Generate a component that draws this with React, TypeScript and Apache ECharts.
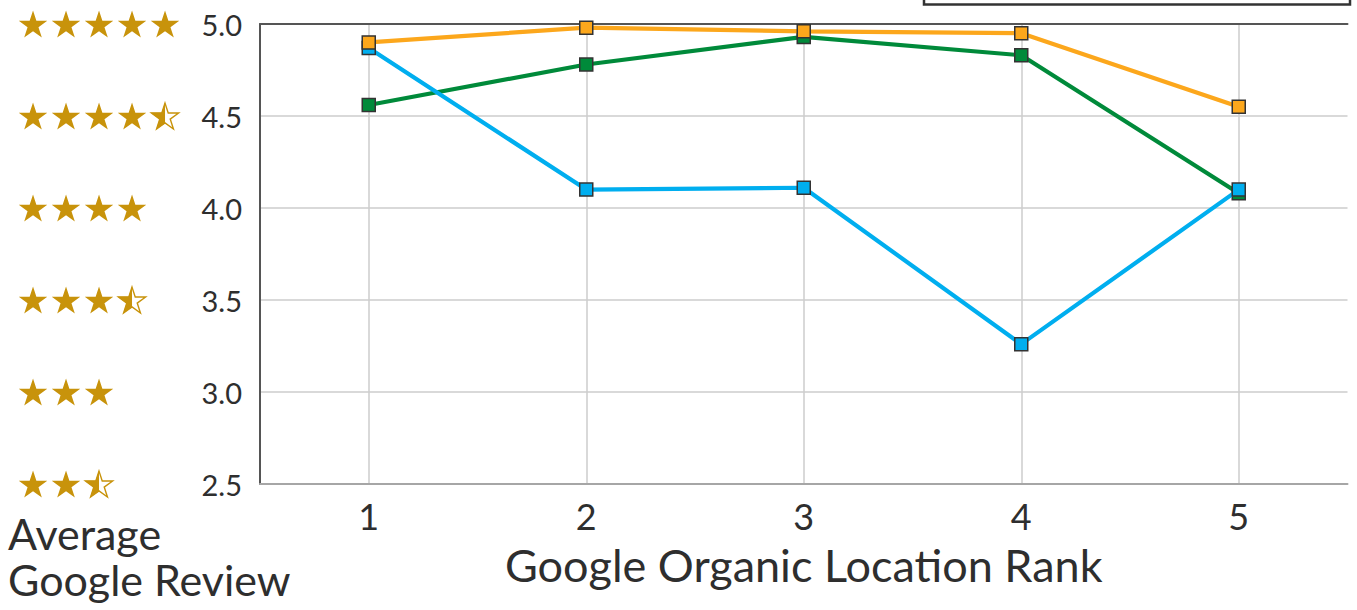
import React, { useEffect, useRef } from "react";
import * as echarts from "echarts";

// Google organic location rank (x) vs average Google review score (y)
const RANKS = ["1", "2", "3", "4", "5"];
const Y_TICKS = [2.5, 3.0, 3.5, 4.0, 4.5, 5.0];

const greenSeries = [4.56, 4.78, 4.93, 4.83, 4.08];
const blueSeries = [4.87, 4.1, 4.11, 3.26, 4.1];
const orangeSeries = [4.9, 4.98, 4.96, 4.95, 4.55];

const FONT = "Lato, 'Open Sans', sans-serif";
const TEXT = "#2e2e2e";
const STAR = "#c8930b";

// Builds a star polygon point list centred at (cx, cy)
function starPoints(cx: number, cy: number, R: number): string {
  const r = R * 0.382;
  const pts: string[] = [];
  for (let i = 0; i < 10; i++) {
    const a = -Math.PI / 2 + (i * Math.PI) / 5;
    const rad = i % 2 === 0 ? R : r;
    pts.push(`${(cx + rad * Math.cos(a)).toFixed(2)},${(cy + rad * Math.sin(a)).toFixed(2)}`);
  }
  return pts.join(" ");
}

const STAR_W = 184;
const STAR_H = 32;

// Star-rating strip rendered as an SVG image for an axis label
function starImage(rating: number): string {
  const R = 15;
  const cy = STAR_H / 2 + 1.4;
  const full = Math.floor(rating);
  const half = rating - full >= 0.5;
  let body = "";
  for (let i = 0; i < full; i++) {
    body += `<polygon points="${starPoints(15.5 + 33 * i, cy, R)}" fill="${STAR}"/>`;
  }
  if (half) {
    const cx = 15.5 + 33 * full;
    body +=
      `<defs><clipPath id="h"><rect x="${cx - R}" y="0" width="${R}" height="${STAR_H}"/></clipPath></defs>` +
      `<polygon points="${starPoints(cx, cy, R - 0.7)}" fill="#fff" stroke="${STAR}" stroke-width="1.4"/>` +
      `<polygon points="${starPoints(cx, cy, R)}" fill="${STAR}" clip-path="url(#h)"/>`;
  }
  const svg = `<svg xmlns="http://www.w3.org/2000/svg" width="${STAR_W}" height="${STAR_H}" viewBox="0 0 ${STAR_W} ${STAR_H}">${body}</svg>`;
  return "data:image/svg+xml;charset=utf-8," + encodeURIComponent(svg);
}

function tickKey(v: number): string {
  return "s" + Math.round(v * 10);
}

export default function App() {
  const ref = useRef<HTMLDivElement>(null);

  useEffect(() => {
    document.body.style.margin = "0";
    if (!ref.current) return;
    const chart = echarts.init(ref.current, undefined, { renderer: "svg" });

    const rich: Record<string, any> = {
      v: { fontSize: 29, color: TEXT, fontFamily: FONT },
    };
    Y_TICKS.forEach((t) => {
      rich[tickKey(t)] = {
        width: STAR_W,
        height: STAR_H,
        backgroundColor: { image: starImage(t) },
      };
    });

    const lineSeries = (name: string, data: number[], color: string, z: number) => ({
      name,
      type: "line",
      data,
      z,
      symbol: "rect",
      symbolSize: 13,
      lineStyle: { color, width: 4.2 },
      itemStyle: { color, borderColor: "#333", borderWidth: 1.5 },
    });

    chart.setOption({
      animation: false,
      grid: { left: 260, top: 24, right: 9.5, bottom: 126 },
      xAxis: [
        {
          type: "category",
          data: RANKS,
          boundaryGap: true,
          name: "Google Organic Location Rank",
          nameLocation: "middle",
          nameGap: 58,
          nameTextStyle: { fontSize: 45, color: TEXT, fontFamily: FONT },
          axisLine: { lineStyle: { color: "#a6a6a6", width: 2 } },
          axisTick: { show: false },
          axisLabel: { fontSize: 36, color: TEXT, fontFamily: FONT, margin: 14 },
          splitLine: { show: true, alignWithLabel: true, lineStyle: { color: "#cccccc", width: 1.5 } },
        },
        {
          type: "category",
          data: RANKS,
          position: "top",
          axisLine: { lineStyle: { color: "#555", width: 2 } },
          axisTick: { show: false },
          axisLabel: { show: false },
          splitLine: { show: false },
        },
      ],
      yAxis: {
        type: "value",
        min: 2.5,
        max: 5,
        interval: 0.5,
        axisLine: { show: true, lineStyle: { color: "#555", width: 2 } },
        axisTick: { show: false },
        splitLine: { lineStyle: { color: "#cccccc", width: 1.5 } },
        axisLabel: {
          margin: 18,
          formatter: (v: number) => `{${tickKey(v)}|}{v|${v.toFixed(1)}}`,
          rich,
        },
      },
      graphic: [
        {
          type: "rect",
          shape: { x: 924, y: -10, width: 426, height: 14.5 },
          style: { fill: "#fff", stroke: "#333", lineWidth: 2.5 },
          z: 10,
        },
        {
          type: "text",
          left: 8,
          top: 512,
          style: { text: "Average", font: `43px ${FONT}`, fill: TEXT },
        },
        {
          type: "text",
          left: 8,
          top: 558,
          style: { text: "Google Review", font: `43px ${FONT}`, fill: TEXT },
        },
      ],
      series: [
        lineSeries("green", greenSeries, "#008a3a", 2),
        lineSeries("blue", blueSeries, "#00aeef", 3),
        lineSeries("orange", orangeSeries, "#fca71c", 4),
      ],
    });

    return () => chart.dispose();
  }, []);

  return <div ref={ref} style={{ width: 1357, height: 610 }} />;
}
